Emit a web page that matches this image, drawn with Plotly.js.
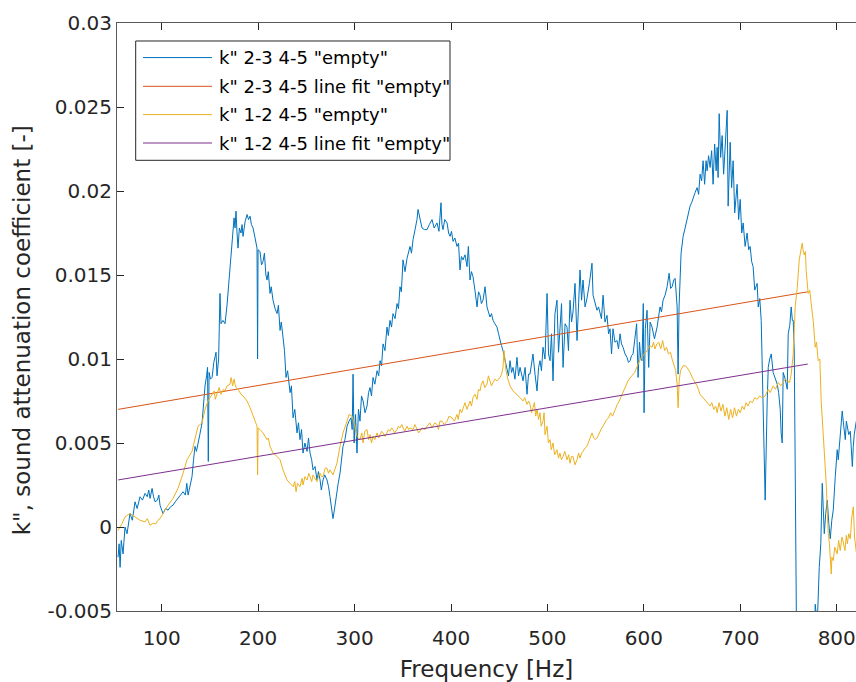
<!DOCTYPE html>
<html>
<head>
<meta charset="utf-8">
<script src="https://cdn.plot.ly/plotly-3.0.1.min.js"></script>
<style>html,body{margin:0;padding:0;background:#fff;overflow:hidden}</style>
</head>
<body>
<div id="chart" style="width:856px;height:682px"></div>
<script>
// ---- data ----
const seriesNames = ['k" 2-3 4-5 "empty"', 'k" 2-3 4-5 line fit "empty"', 'k" 1-2 4-5 "empty"', 'k" 1-2 4-5 line fit "empty"'];
const xTitle = 'Frequency [Hz]';
const yTitle = 'k", sound attenuation coefficient [-]';

const k23 = [[54.7,-0.0018],[55.8,-0.0010],[56.8,-0.0024],[58.0,-0.0008],[59.9,-0.0016],[61.9,0.0000],[64.0,-0.0004],[67.1,0.0008],[69.5,0.0004],[72.3,0.0015],[74.5,0.0011],[77.5,0.0018],[80.0,0.0016],[82.7,0.0020],[85.0,0.0018],[86.5,0.0022],[87.9,0.0017],[90.0,0.0023],[91.5,0.0018],[93.1,0.0015],[95.5,0.0016],[97.0,0.0019],[98.2,0.0013],[101.3,0.0008],[104.0,0.0011],[106.5,0.0010],[109.0,0.0012],[111.7,0.0013],[114.0,0.0015],[116.9,0.0017],[119.5,0.0019],[122.1,0.0021],[124.5,0.0019],[126.0,0.0026],[127.3,0.0019],[129.0,0.0024],[131.4,0.0030],[133.0,0.0040],[134.5,0.0048],[136.0,0.0045],[137.6,0.0049],[139.5,0.0055],[141.8,0.0062],[143.5,0.0075],[144.9,0.0084],[146.5,0.0090],[147.5,0.0095],[148.3,0.0039],[149.1,0.0092],[150.5,0.0088],[152.2,0.0089],[154.0,0.0098],[156.3,0.0104],[157.3,0.0090],[159.0,0.0100],[160.4,0.0139],[161.5,0.0121],[163.5,0.0123],[165.6,0.0121],[167.7,0.0132],[169.5,0.0145],[170.8,0.0155],[172.9,0.0172],[175.0,0.0184],[176.0,0.0178],[177.0,0.0188],[178.0,0.0176],[179.1,0.0166],[180.5,0.0178],[182.2,0.0175],[183.3,0.0180],[184.3,0.0173],[186.5,0.0182],[188.5,0.0186],[190.0,0.0183],[191.6,0.0185],[193.0,0.0180],[194.7,0.0178],[196.8,0.0172],[198.8,0.0166],[199.4,0.0100],[199.9,0.0165],[201.9,0.0164],[203.5,0.0156],[205.0,0.0158],[206.5,0.0163],[208.0,0.0150],[209.2,0.0147],[210.5,0.0152],[212.3,0.0139],[213.5,0.0143],[215.4,0.0135],[217.5,0.0130],[219.6,0.0127],[221.0,0.0132],[222.7,0.0117],[224.0,0.0122],[225.8,0.0113],[227.3,0.0105],[228.9,0.0089],[230.5,0.0093],[233.1,0.0080],[234.5,0.0084],[236.2,0.0065],[238.0,0.0070],[240.3,0.0056],[241.8,0.0062],[243.4,0.0052],[245.0,0.0058],[246.5,0.0044],[248.5,0.0050],[250.7,0.0045],[252.2,0.0053],[253.8,0.0044],[255.5,0.0040],[256.9,0.0034],[259.0,0.0036],[261.0,0.0028],[262.5,0.0033],[264.2,0.0028],[265.5,0.0022],[267.3,0.0028],[269.0,0.0031],[271.4,0.0028],[273.0,0.0024],[274.5,0.0018],[276.0,0.0010],[277.6,0.0005],[279.0,0.0010],[280.7,0.0018],[283.0,0.0026],[284.9,0.0032],[286.5,0.0040],[288.0,0.0048],[290.0,0.0052],[292.2,0.0060],[294.2,0.0063],[296.3,0.0065],[297.5,0.0058],[298.4,0.0091],[299.5,0.0050],[301.0,0.0067],[302.5,0.0044],[304.0,0.0070],[305.6,0.0063],[307.2,0.0078],[308.8,0.0075],[310.8,0.0068],[312.9,0.0072],[314.5,0.0080],[316.0,0.0083],[317.5,0.0078],[319.1,0.0089],[321.0,0.0085],[323.3,0.0093],[325.0,0.0090],[326.4,0.0099],[328.0,0.0096],[329.5,0.0109],[331.5,0.0105],[333.6,0.0119],[335.0,0.0114],[336.7,0.0123],[338.3,0.0119],[339.8,0.0127],[342.0,0.0124],[344.0,0.0133],[345.5,0.0130],[347.1,0.0143],[348.5,0.0140],[350.2,0.0159],[352.3,0.0152],[354.4,0.0160],[356.0,0.0164],[357.5,0.0167],[359.0,0.0163],[360.6,0.0171],[362.7,0.0177],[364.7,0.0183],[365.8,0.0189],[367.5,0.0184],[369.9,0.0178],[372.5,0.0177],[375.1,0.0177],[377.5,0.0180],[380.3,0.0183],[382.5,0.0178],[385.5,0.0181],[387.5,0.0176],[389.6,0.0193],[390.6,0.0180],[391.7,0.0177],[393.5,0.0183],[395.9,0.0181],[397.5,0.0175],[399.0,0.0173],[400.5,0.0176],[402.1,0.0170],[404.0,0.0172],[406.2,0.0167],[407.8,0.0169],[409.3,0.0153],[410.8,0.0161],[412.4,0.0159],[414.5,0.0162],[416.6,0.0155],[418.0,0.0167],[419.7,0.0147],[421.2,0.0152],[422.8,0.0149],[424.8,0.0141],[427.0,0.0131],[428.5,0.0140],[430.1,0.0138],[431.5,0.0133],[433.2,0.0135],[435.3,0.0143],[437.3,0.0131],[438.8,0.0128],[440.4,0.0125],[442.0,0.0127],[443.6,0.0123],[445.5,0.0121],[447.7,0.0119],[449.3,0.0115],[450.8,0.0111],[452.3,0.0108],[453.9,0.0105],[456.0,0.0100],[458.1,0.0095],[459.6,0.0090],[461.2,0.0099],[462.8,0.0092],[464.3,0.0095],[466.3,0.0088],[468.4,0.0101],[470.0,0.0090],[471.6,0.0095],[473.0,0.0091],[474.7,0.0087],[476.8,0.0095],[478.8,0.0079],[480.4,0.0091],[481.9,0.0091],[483.5,0.0097],[485.0,0.0103],[487.1,0.0091],[489.2,0.0081],[490.8,0.0095],[492.3,0.0099],[493.8,0.0093],[495.4,0.0107],[497.5,0.0100],[499.6,0.0139],[501.1,0.0103],[502.7,0.0099],[504.2,0.0115],[505.8,0.0087],[507.8,0.0127],[509.9,0.0135],[511.5,0.0104],[513.0,0.0119],[514.6,0.0133],[516.2,0.0095],[518.3,0.0121],[520.3,0.0119],[521.8,0.0105],[523.4,0.0135],[525.0,0.0122],[526.5,0.0128],[528.6,0.0145],[530.7,0.0111],[532.3,0.0140],[533.8,0.0153],[535.4,0.0135],[536.9,0.0147],[539.0,0.0131],[541.0,0.0136],[543.5,0.0145],[546.2,0.0157],[547.3,0.0138],[549.5,0.0133],[551.4,0.0129],[553.0,0.0131],[554.5,0.0128],[556.0,0.0124],[557.7,0.0138],[559.7,0.0122],[561.8,0.0126],[563.4,0.0115],[564.9,0.0118],[566.5,0.0103],[568.0,0.0118],[570.0,0.0110],[572.2,0.0111],[573.7,0.0106],[575.3,0.0115],[576.8,0.0109],[578.4,0.0107],[580.5,0.0103],[582.5,0.0101],[584.0,0.0098],[585.7,0.0099],[587.2,0.0102],[588.8,0.0103],[591.0,0.0112],[592.5,0.0121],[594.0,0.0089],[595.5,0.0110],[596.8,0.0100],[598.1,0.0099],[599.4,0.0133],[600.2,0.0068],[601.5,0.0118],[603.3,0.0129],[605.0,0.0095],[606.5,0.0122],[608.5,0.0119],[611.0,0.0112],[613.7,0.0119],[615.2,0.0125],[616.8,0.0131],[618.3,0.0128],[619.9,0.0135],[622.0,0.0138],[624.1,0.0143],[626.2,0.0151],[627.8,0.0142],[629.3,0.0143],[631.0,0.0147],[632.4,0.0148],[634.5,0.0131],[635.5,0.0091],[636.5,0.0131],[638.6,0.0163],[640.7,0.0173],[642.8,0.0178],[644.8,0.0183],[646.4,0.0186],[647.9,0.0191],[649.5,0.0193],[651.1,0.0196],[653.1,0.0199],[655.2,0.0202],[656.8,0.0198],[658.3,0.0210],[659.9,0.0206],[661.4,0.0218],[663.0,0.0204],[664.5,0.0218],[665.6,0.0212],[667.1,0.0221],[668.7,0.0214],[670.3,0.0224],[671.8,0.0204],[673.4,0.0228],[675.0,0.0212],[676.0,0.0226],[677.0,0.0208],[678.1,0.0246],[679.6,0.0220],[681.2,0.0233],[682.7,0.0210],[684.5,0.0228],[686.4,0.0248],[687.4,0.0191],[689.5,0.0229],[691.0,0.0202],[692.6,0.0218],[694.2,0.0187],[696.7,0.0204],[698.3,0.0183],[699.9,0.0195],[701.5,0.0175],[703.0,0.0181],[705.0,0.0167],[707.1,0.0175],[708.7,0.0165],[710.2,0.0167],[711.8,0.0158],[713.3,0.0155],[715.0,0.0141],[717.5,0.0145],[718.6,0.0131],[720.2,0.0136],[721.7,0.0123],[722.7,0.0095],[723.7,0.0056],[725.8,0.0016],[727.9,0.0075],[729.0,0.0095],[730.5,0.0100],[732.1,0.0103],[734.1,0.0092],[736.2,0.0088],[738.3,0.0085],[739.8,0.0080],[741.4,0.0070],[742.4,0.0056],[743.5,0.0050],[744.5,0.0092],[746.6,0.0088],[748.7,0.0082],[749.7,0.0115],[751.3,0.0120],[752.8,0.0131],[754.0,0.0123],[754.9,0.0123],[756.0,0.0103],[758.0,0.0012],[759.5,-0.0150],[768.0,-0.0160],[776.0,-0.0090],[777.7,-0.0046],[779.8,-0.0058],[781.9,-0.0024],[783.5,-0.0010],[785.0,0.0026],[787.1,-0.0004],[788.6,0.0008],[790.2,0.0016],[791.8,0.0002],[793.3,-0.0007],[794.9,0.0004],[796.4,0.0010],[798.5,0.0030],[800.5,0.0046],[801.6,0.0040],[803.6,0.0055],[805.7,0.0069],[807.3,0.0060],[808.9,0.0052],[810.0,0.0063],[811.0,0.0060],[812.5,0.0055],[814.1,0.0057],[816.2,0.0036],[817.2,0.0048],[818.2,0.0055],[820.3,0.0063]];

const k12 = [[54.7,-0.0002],[58.8,0.0002],[61.9,0.0006],[67.1,0.0008],[72.3,0.0006],[77.5,0.0004],[82.7,0.0003],[85.0,0.0005],[87.9,0.0001],[90.5,0.0002],[94.0,0.0002],[96.0,0.0004],[98.2,0.0005],[101.3,0.0008],[106.5,0.0013],[111.7,0.0017],[116.9,0.0023],[122.1,0.0032],[126.2,0.0040],[131.4,0.0045],[134.5,0.0052],[137.6,0.0060],[141.8,0.0062],[144.9,0.0070],[148.0,0.0075],[152.2,0.0079],[154.5,0.0081],[155.5,0.0076],[157.3,0.0079],[159.5,0.0083],[161.5,0.0079],[164.0,0.0082],[165.6,0.0081],[167.7,0.0084],[170.8,0.0085],[172.0,0.0089],[173.5,0.0084],[175.0,0.0088],[176.0,0.0085],[177.0,0.0083],[179.1,0.0082],[182.2,0.0079],[184.3,0.0078],[188.5,0.0075],[191.6,0.0071],[195.7,0.0065],[198.8,0.0060],[199.4,0.0031],[199.9,0.0059],[201.9,0.0058],[205.0,0.0056],[209.2,0.0052],[210.5,0.0053],[212.3,0.0048],[215.4,0.0044],[219.6,0.0042],[222.7,0.0040],[225.8,0.0034],[229.9,0.0028],[233.1,0.0026],[236.2,0.0024],[238.0,0.0027],[239.3,0.0021],[240.8,0.0026],[243.4,0.0024],[245.5,0.0029],[246.5,0.0025],[248.5,0.0030],[250.7,0.0028],[252.5,0.0032],[253.8,0.0030],[255.5,0.0027],[256.9,0.0031],[259.0,0.0029],[261.0,0.0027],[262.5,0.0030],[264.2,0.0032],[265.8,0.0030],[267.3,0.0030],[269.5,0.0035],[271.4,0.0035],[273.0,0.0032],[274.5,0.0034],[277.6,0.0031],[281.7,0.0038],[284.9,0.0048],[288.0,0.0056],[292.2,0.0063],[294.2,0.0067],[297.3,0.0066],[300.4,0.0060],[302.5,0.0054],[305.6,0.0052],[307.5,0.0056],[308.8,0.0050],[310.5,0.0057],[312.9,0.0058],[314.5,0.0052],[316.0,0.0055],[317.5,0.0050],[319.1,0.0054],[321.0,0.0052],[323.3,0.0056],[325.0,0.0053],[326.4,0.0055],[328.0,0.0057],[329.5,0.0056],[331.5,0.0054],[333.6,0.0056],[335.0,0.0058],[336.7,0.0057],[338.5,0.0059],[339.8,0.0058],[341.5,0.0056],[344.0,0.0058],[345.5,0.0060],[347.1,0.0059],[349.0,0.0061],[350.2,0.0059],[352.0,0.0057],[354.4,0.0060],[356.0,0.0058],[357.5,0.0059],[360.6,0.0058],[362.5,0.0061],[364.7,0.0058],[366.5,0.0056],[369.9,0.0059],[373.0,0.0058],[375.1,0.0060],[378.0,0.0062],[380.3,0.0059],[383.0,0.0062],[385.5,0.0061],[387.0,0.0058],[388.5,0.0063],[390.6,0.0063],[393.0,0.0061],[395.9,0.0063],[398.0,0.0066],[401.0,0.0065],[403.5,0.0063],[406.2,0.0067],[407.5,0.0064],[409.3,0.0070],[411.0,0.0068],[412.4,0.0071],[414.5,0.0074],[416.6,0.0070],[418.0,0.0073],[419.7,0.0075],[421.2,0.0072],[422.8,0.0077],[424.8,0.0079],[427.0,0.0076],[428.5,0.0082],[430.1,0.0081],[431.5,0.0085],[433.2,0.0087],[435.0,0.0083],[437.3,0.0085],[438.8,0.0090],[440.4,0.0087],[442.0,0.0084],[443.6,0.0086],[445.5,0.0088],[447.7,0.0087],[450.8,0.0089],[452.5,0.0091],[453.9,0.0095],[455.0,0.0105],[456.0,0.0099],[457.0,0.0093],[459.0,0.0088],[461.2,0.0084],[464.3,0.0081],[466.3,0.0080],[468.4,0.0079],[471.6,0.0077],[474.7,0.0075],[476.5,0.0077],[478.8,0.0073],[480.5,0.0075],[481.9,0.0073],[483.5,0.0068],[485.0,0.0071],[486.5,0.0074],[487.8,0.0066],[489.2,0.0070],[490.8,0.0064],[492.3,0.0068],[493.5,0.0060],[495.4,0.0063],[496.5,0.0068],[497.5,0.0055],[499.6,0.0060],[501.0,0.0050],[502.7,0.0052],[504.0,0.0046],[505.8,0.0050],[507.5,0.0043],[509.9,0.0046],[511.5,0.0041],[513.0,0.0044],[514.5,0.0040],[516.2,0.0042],[518.0,0.0045],[520.3,0.0040],[522.0,0.0043],[523.4,0.0038],[525.0,0.0042],[526.5,0.0042],[528.5,0.0037],[530.7,0.0040],[532.3,0.0044],[533.8,0.0041],[535.5,0.0044],[536.9,0.0045],[539.0,0.0047],[541.0,0.0048],[543.5,0.0052],[546.2,0.0056],[548.0,0.0053],[549.5,0.0052],[551.5,0.0053],[553.5,0.0056],[555.5,0.0058],[557.5,0.0060],[559.5,0.0062],[561.5,0.0064],[563.5,0.0065],[565.5,0.0068],[567.5,0.0066],[570.0,0.0070],[572.5,0.0073],[574.5,0.0075],[577.5,0.0079],[580.5,0.0083],[583.5,0.0087],[587.5,0.0090],[590.5,0.0092],[594.0,0.0097],[597.5,0.0101],[600.5,0.0103],[603.5,0.0105],[606.0,0.0108],[608.5,0.0107],[610.0,0.0110],[611.5,0.0106],[613.5,0.0109],[615.5,0.0110],[617.5,0.0106],[619.5,0.0111],[621.5,0.0105],[623.5,0.0107],[625.5,0.0103],[627.5,0.0104],[629.3,0.0100],[631.0,0.0097],[633.0,0.0093],[634.5,0.0085],[635.5,0.0071],[636.6,0.0087],[638.0,0.0093],[640.7,0.0096],[643.0,0.0096],[644.8,0.0095],[647.9,0.0092],[651.1,0.0088],[655.2,0.0084],[658.3,0.0079],[661.4,0.0077],[665.6,0.0074],[668.7,0.0072],[670.5,0.0074],[672.5,0.0070],[674.5,0.0072],[676.0,0.0068],[678.0,0.0074],[680.0,0.0069],[682.0,0.0073],[684.0,0.0066],[686.0,0.0071],[688.0,0.0064],[690.0,0.0070],[692.0,0.0065],[694.0,0.0071],[696.0,0.0066],[698.0,0.0070],[700.0,0.0068],[702.0,0.0072],[704.0,0.0070],[706.0,0.0074],[708.0,0.0072],[710.2,0.0075],[712.5,0.0074],[715.0,0.0077],[717.5,0.0076],[720.0,0.0078],[722.5,0.0077],[725.8,0.0078],[729.0,0.0082],[731.0,0.0080],[734.1,0.0084],[736.5,0.0082],[739.4,0.0086],[742.0,0.0084],[744.5,0.0086],[746.5,0.0088],[748.7,0.0087],[751.0,0.0086],[752.8,0.0091],[754.9,0.0103],[756.9,0.0131],[759.0,0.0142],[761.1,0.0159],[762.5,0.0163],[764.2,0.0169],[765.0,0.0165],[766.3,0.0162],[767.5,0.0164],[768.4,0.0152],[770.4,0.0139],[772.0,0.0141],[773.5,0.0133],[775.6,0.0123],[777.7,0.0107],[779.0,0.0110],[780.8,0.0099],[782.5,0.0100],[783.9,0.0075],[786.0,0.0056],[789.1,0.0026],[791.2,-0.0004],[792.5,-0.0010],[794.3,-0.0028],[795.0,-0.0018],[796.4,-0.0020],[798.0,-0.0012],[800.5,-0.0016],[802.0,-0.0008],[803.6,-0.0014],[805.5,-0.0006],[806.8,-0.0009],[808.5,-0.0014],[810.0,-0.0005],[811.0,-0.0010],[812.5,-0.0004],[814.1,-0.0007],[815.5,0.0005],[817.2,0.0012],[818.5,-0.0006],[820.3,-0.0015]];

const fitFreq = [54.7, 770.0];
const fit23 = [0.0070, 0.0140];
const fit12 = [0.0028, 0.0097];

const xTickVals = [100, 200, 300, 400, 500, 600, 700, 800];
const xTickText = ['100', '200', '300', '400', '500', '600', '700', '800'];
const yTickVals = [-0.005, 0, 0.005, 0.01, 0.015, 0.02, 0.025, 0.03];
const yTickText = ['-0.005', '0', '0.005', '0.01', '0.015', '0.02', '0.025', '0.03'];

const colors = ['#0072BD', '#D95319', '#EDB120', '#7E2F8E'];
const FONT = 'DejaVu Sans';

// ---- traces ----
const traces = [
  {x: k23.map(p => p[0]), y: k23.map(p => p[1]), name: seriesNames[0]},
  {x: fitFreq, y: fit23, name: seriesNames[1]},
  {x: k12.map(p => p[0]), y: k12.map(p => p[1]), name: seriesNames[2]},
  {x: fitFreq, y: fit12, name: seriesNames[3]}
].map((t, i) => Object.assign(t, {
  type: 'scatter', mode: 'lines', showlegend: false,
  line: {color: colors[i], width: 1}
}));

// ---- MATLAB-like legend box (paper coordinates) ----
const legRowsY = [0.9412, 0.8923, 0.8442, 0.7959];
const shapes = [{type: 'rect', xref: 'paper', yref: 'paper', x0: 0.0253, x1: 0.4506, y0: 0.7665, y1: 0.9694,
  line: {color: '#262626', width: 1}, fillcolor: '#ffffff', layer: 'above'}];
const annotations = [];
seriesNames.forEach((nm, i) => {
  shapes.push({type: 'line', xref: 'paper', yref: 'paper', x0: 0.0352, x1: 0.1286, y0: legRowsY[i], y1: legRowsY[i],
    line: {color: colors[i], width: 1}, layer: 'above'});
  annotations.push({xref: 'paper', yref: 'paper', x: 0.1353, y: legRowsY[i], xanchor: 'left', yanchor: 'middle',
    text: nm, showarrow: false, font: {family: FONT, size: 18, color: '#000000'}});
});
// y-axis title (placed like the original)
annotations.push({xref: 'paper', yref: 'paper', x: -0.1286, y: 0.4774, xanchor: 'center', yanchor: 'middle',
  textangle: -90, text: yTitle, showarrow: false, font: {family: FONT, size: 23, color: '#262626'}});

const axisCommon = {
  showgrid: false, zeroline: false, showline: true, linecolor: '#595959', linewidth: 1,
  ticks: 'inside', ticklen: 7, tickcolor: '#262626', tickwidth: 1,
  tickfont: {family: FONT, size: 20, color: '#262626'}
};

const layout = {
  width: 856, height: 682,
  margin: {l: 117, r: 0, t: 23, b: 71, pad: 0},
  paper_bgcolor: '#ffffff', plot_bgcolor: '#ffffff',
  font: {family: FONT, color: '#262626'},
  xaxis: Object.assign({}, axisCommon, {
    range: [53.6, 820], tickmode: 'array', tickvals: xTickVals, ticktext: xTickText,
    mirror: 'ticks', ticklabelstandoff: 9,
    title: {text: xTitle, font: {family: FONT, size: 23, color: '#262626'}, standoff: 12}
  }),
  yaxis: Object.assign({}, axisCommon, {
    range: [-0.005, 0.03], tickmode: 'array', tickvals: yTickVals, ticktext: yTickText
  }),
  shapes: shapes,
  annotations: annotations
};

Plotly.newPlot('chart', traces, layout, {displayModeBar: false, staticPlot: true});
</script>
</body>
</html>
